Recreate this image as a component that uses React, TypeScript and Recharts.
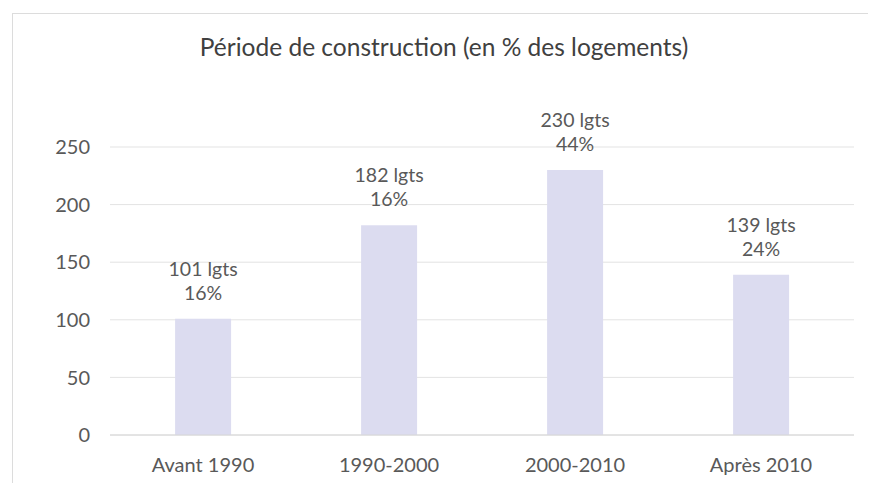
import { BarChart, Bar, XAxis, YAxis, CartesianGrid, LabelList } from 'recharts'

// Values
const periods = ['Avant 1990', '1990-2000', '2000-2010', 'Après 2010']
const logements = [101, 182, 230, 139]
const parts = ['16%', '16%', '44%', '24%']
const yTicks = [0, 50, 100, 150, 200, 250]

const data = periods.map((p, i) => ({ periode: p, lgts: logements[i], part: parts[i] }))

const FONT = 'Lato, "Open Sans", sans-serif'
const GRAY = '#595959'

const BarLabel = (props: any) => {
    const { x, y, width, index } = props
    const cx = x + width / 2
    return (
        <g>
            <text x={cx} y={y - 43} textAnchor="middle" fontSize={19.5} fill={GRAY} fontFamily={FONT}>
                {logements[index]} lgts
            </text>
            <text x={cx} y={y - 19} textAnchor="middle" fontSize={19.5} fill={GRAY} fontFamily={FONT}>
                {parts[index]}
            </text>
        </g>
    )
}

export default function App() {
    return (
        <div style={{ position: 'relative', width: 860, height: 475, fontFamily: FONT }}>
            {/* card frame */}
            <div style={{
                position: 'absolute', left: 4, top: 5, width: 870, height: 480,
                borderTop: '1.5px solid #dcdcdc', borderLeft: '1.5px solid #dcdcdc', background: '#fff'
            }} />
            <div style={{
                position: 'absolute', left: 0, top: 24, width: 872, textAlign: 'center',
                fontSize: 24.5, lineHeight: 1.2, color: '#404040'
            }}>
                Période de construction (en % des logements)
            </div>
            <div style={{ position: 'absolute', left: 0, top: 0 }}>
                <BarChart width={860} height={475} data={data}
                    margin={{ top: 139, right: 14, left: 40, bottom: 8 }} barCategoryGap="35%">
                    <CartesianGrid stroke="#e3e3e3" vertical={false} />
                    <XAxis dataKey="periode" height={40} axisLine={{ stroke: '#d6d6d6' }} tickLine={false}
                        tick={{ fontSize: 20, fill: GRAY, fontFamily: FONT }} tickMargin={17} />
                    <YAxis domain={[0, 250]} ticks={yTicks} width={62} axisLine={false} tickLine={false}
                        tick={{ fontSize: 20, fill: GRAY, fontFamily: FONT }} tickMargin={14} />
                    <Bar dataKey="lgts" fill="#dcdcf0" isAnimationActive={false}>
                        <LabelList dataKey="lgts" content={BarLabel} />
                    </Bar>
                </BarChart>
            </div>
        </div>
    )
}
